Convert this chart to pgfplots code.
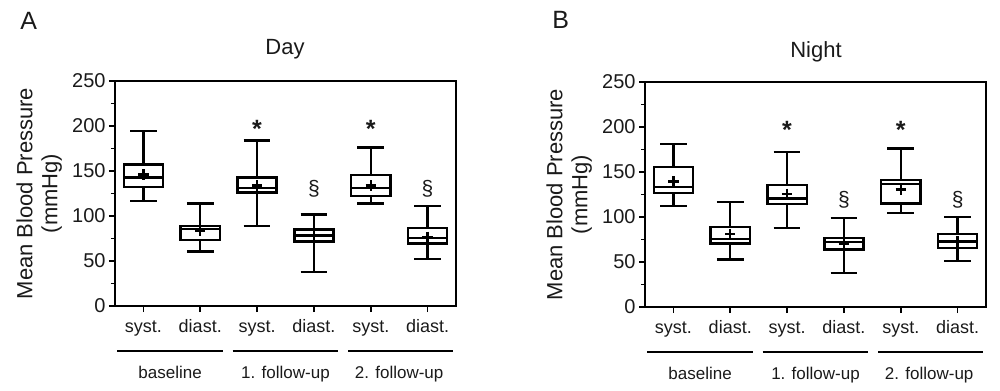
\documentclass[border=0pt]{standalone}
\usepackage{fontspec}
\setmainfont{Liberation Sans}
\usepackage{pgfplots}
\pgfplotsset{compat=1.18}
\usepgfplotslibrary{statistics}
\definecolor{txt}{HTML}{1A1A1A}
\pgfplotsset{
  bp/.style={
    scale only axis, width=170.5pt, height=112.5pt,
    xmin=-0.5, xmax=5.5, ymin=0, ymax=250,
    axis line style={line width=0.8pt},
    tick style={line width=0.8pt, black},
    tick align=outside, xtick pos=left, ytick pos=left,
    major tick length=3pt, minor tick length=2pt,
    xtick={0,1,2,3,4,5},
    xticklabels={syst.,diast.,syst.,diast.,syst.,diast.},
    ytick={0,50,100,150,200,250}, minor y tick num=1,
    tick label style={text=txt},
    xticklabel style={font=\fontsize{9}{10}\selectfont, anchor=base, yshift=-10pt},
    yticklabel style={font=\fontsize{10}{11}\selectfont, xshift=1.8pt},
    /pgf/number format/assume math mode=true,
    clip=false,
    boxplot/draw direction=y,
    ylabel style={at={(axis description cs:-0.222,0.5)}, anchor=center, align=center, font=\fontsize{11}{12.5}\selectfont, text=txt},
  },
  bpl/.style={black, solid, line width=1.2pt,
    boxplot/box extend=0.69, boxplot/whisker extend=0.47,
    boxplot/every average/.style={/tikz/mark=+, /tikz/mark size=2.6pt, /tikz/line width=1.7pt}},
}
\tikzset{
  grp/.style={anchor=base, font=\fontsize{8.5}{10}\selectfont, text=txt},
  star/.style={font=\fontsize{12.5}{14}\selectfont\bfseries, text=txt},
  sec/.style={font=\fontsize{10.5}{12}\selectfont, text=txt},
}
\begin{document}
\begin{tikzpicture}
\path (0,0) rectangle (500pt,195pt);
\node[anchor=base west, inner sep=0pt, font=\fontsize{12.5}{14}\selectfont, text=txt] at (10pt,180pt) {A};
\node[anchor=base west, inner sep=0pt, font=\fontsize{12.5}{14}\selectfont, text=txt] at (276pt,180.5pt) {B};
\node[anchor=base, font=\fontsize{11}{13}\selectfont, text=txt] at (142.5pt,167.5pt) {Day};
\node[anchor=base, font=\fontsize{11}{13}\selectfont, text=txt] at (408pt,166pt) {Night};

\begin{axis}[bp, at={(57.5pt,42pt)}, anchor=south west, ylabel={Mean Blood Pressure\\(mmHg)}]
\addplot[bpl, boxplot prepared={draw position=0, lower whisker=116.5, lower quartile=132, median=142.8, upper quartile=157.2, upper whisker=194.5, average=146}] coordinates {};
\addplot[bpl, boxplot prepared={draw position=1, lower whisker=60.7, lower quartile=73.6, median=85.8, upper quartile=88.8, upper whisker=113.9, average=83.2}] coordinates {};
\addplot[bpl, boxplot prepared={draw position=2, lower whisker=88.8, lower quartile=126.1, median=131.3, upper quartile=142.8, upper whisker=183.8, average=133.9}] coordinates {};
\addplot[bpl, boxplot prepared={draw position=3, lower whisker=37.7, lower quartile=71.7, median=78.4, upper quartile=85.1, upper whisker=101.7, average=78.4}] coordinates {};
\addplot[bpl, boxplot prepared={draw position=4, lower whisker=113.9, lower quartile=122.4, median=131.3, upper quartile=145.3, upper whisker=176, average=133.9}] coordinates {};
\addplot[bpl, boxplot prepared={draw position=5, lower whisker=52.5, lower quartile=69.5, median=75.8, upper quartile=86.9, upper whisker=111.3, average=76.9}] coordinates {};
\node[star] at (axis cs:2,197) {*};
\node[star] at (axis cs:4,197) {*};
\node[sec] at (axis cs:3,130.5) {\S};
\node[sec] at (axis cs:5,130.5) {\S};
\draw[line width=1pt, black] (axis cs:-0.46,-50) -- (axis cs:1.40,-50);
\draw[line width=1pt, black] (axis cs:1.57,-50) -- (axis cs:3.42,-50);
\draw[line width=1pt, black] (axis cs:3.60,-50) -- (axis cs:5.45,-50);
\node[grp] at (axis cs:0.47,-81) {baseline};
\node[grp] at (axis cs:2.5,-81) {1. follow-up};
\node[grp] at (axis cs:4.5,-81) {2. follow-up};
\end{axis}

\begin{axis}[bp, at={(322.5pt,41.5pt)}, anchor=south west, ylabel={Mean Blood Pressure\\(mmHg)}]
\addplot[bpl, boxplot prepared={draw position=0, lower whisker=112.4, lower quartile=126.9, median=133.2, upper quartile=155.4, upper whisker=181.4, average=139.5}] coordinates {};
\addplot[bpl, boxplot prepared={draw position=1, lower whisker=53, lower quartile=70.5, median=75.7, upper quartile=88.6, upper whisker=116.5, average=80.9}] coordinates {};
\addplot[bpl, boxplot prepared={draw position=2, lower whisker=87.9, lower quartile=114.2, median=120.5, upper quartile=135.4, upper whisker=172.1, average=125.7}] coordinates {};
\addplot[bpl, boxplot prepared={draw position=3, lower whisker=37.8, lower quartile=63.8, median=72, upper quartile=76.4, upper whisker=99, average=70}] coordinates {};
\addplot[bpl, boxplot prepared={draw position=4, lower whisker=104.6, lower quartile=115, median=136.9, upper quartile=141.3, upper whisker=176.2, average=130.6}] coordinates {};
\addplot[bpl, boxplot prepared={draw position=5, lower whisker=50.8, lower quartile=65.7, median=73, upper quartile=81.2, upper whisker=100.1, average=73}] coordinates {};
\node[star] at (axis cs:2,197) {*};
\node[star] at (axis cs:4,197) {*};
\node[sec] at (axis cs:3,119.4) {\S};
\node[sec] at (axis cs:5,119.4) {\S};
\draw[line width=1pt, black] (axis cs:-0.46,-50) -- (axis cs:1.40,-50);
\draw[line width=1pt, black] (axis cs:1.57,-50) -- (axis cs:3.42,-50);
\draw[line width=1pt, black] (axis cs:3.60,-50) -- (axis cs:5.45,-50);
\node[grp] at (axis cs:0.47,-81) {baseline};
\node[grp] at (axis cs:2.5,-81) {1. follow-up};
\node[grp] at (axis cs:4.5,-81) {2. follow-up};
\end{axis}
\end{tikzpicture}
\end{document}
